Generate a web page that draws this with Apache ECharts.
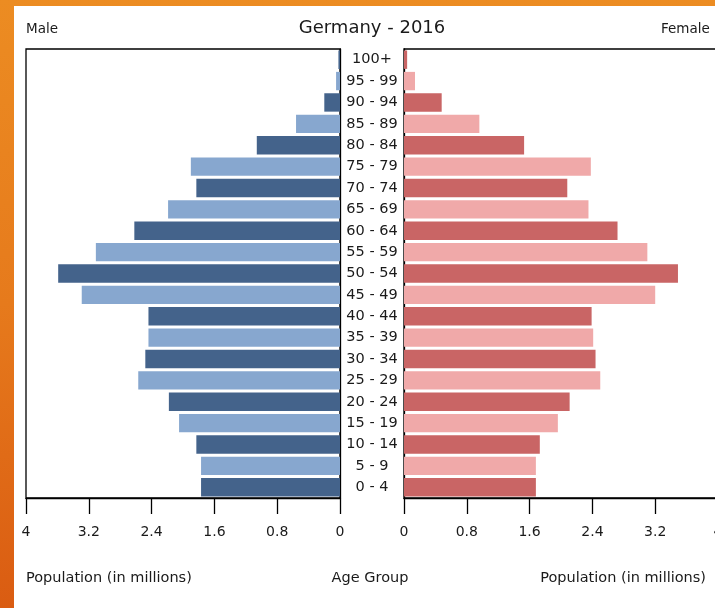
<!DOCTYPE html>
<html>
<head>
<meta charset="utf-8">
<script src="https://cdn.jsdelivr.net/npm/echarts@6/dist/echarts.min.js"></script>
<style>
html,body{margin:0;padding:0;width:715px;height:608px;overflow:hidden;
  background:linear-gradient(180deg,#ec8c22 0%,#e67a1c 50%,#da5c12 100%);}
#bg{position:absolute;left:14px;top:6px;right:0;bottom:0;background:#fff;}
#chart{position:absolute;left:0;top:0;width:715px;height:608px;}
</style>
</head>
<body>
<div id="bg"></div>
<div id="chart"></div>
<script>
const ageGroups = ['0 - 4','5 - 9','10 - 14','15 - 19','20 - 24','25 - 29','30 - 34','35 - 39','40 - 44','45 - 49','50 - 54','55 - 59','60 - 64','65 - 69','70 - 74','75 - 79','80 - 84','85 - 89','90 - 94','95 - 99','100+'];
const maleValues = [1.77,1.77,1.83,2.05,2.18,2.57,2.48,2.44,2.44,3.29,3.59,3.11,2.62,2.19,1.83,1.90,1.06,0.56,0.20,0.05,0.02];
const femaleValues = [1.68,1.68,1.73,1.96,2.11,2.50,2.44,2.41,2.39,3.20,3.49,3.10,2.72,2.35,2.08,2.38,1.53,0.96,0.48,0.14,0.04];
const xTicks = {min:0, max:4, interval:0.8};
const titleText = 'Germany - 2016';

const FONT = 'DejaVu Sans';
const TXT = '#1a1a1a';
const maleDark = '#44638b', maleLight = '#87a7cf';
const femDark = '#c96565', femLight = '#f0a9a9';

const chart = echarts.init(document.getElementById('chart'));

function xAxisCfg(idx, inverse){
  return {
    gridIndex: idx, type:'value', inverse: inverse,
    min: xTicks.min, max: xTicks.max, interval: xTicks.interval,
    axisLine:{show:true, lineStyle:{color:'#000', width:1.3}},
    axisTick:{show:true, length:16, lineStyle:{color:'#000', width:1.3}},
    splitLine:{show:false},
    axisLabel:{margin:27, fontSize:14, color:TXT, fontFamily:FONT,
      formatter: v => String(+(+v).toFixed(1))}
  };
}

chart.setOption({
  animation:false,
  textStyle:{fontFamily:FONT},
  grid:[
    {left:26, top:49, width:314, height:449, show:true, borderColor:'#000', borderWidth:1.3,
     backgroundColor:'transparent', containLabel:false, outerBoundsMode:'none'},
    {left:404, top:49, width:314, height:449, show:true, borderColor:'#000', borderWidth:1.3,
     backgroundColor:'transparent', containLabel:false, outerBoundsMode:'none'}
  ],
  xAxis:[ xAxisCfg(0,true), xAxisCfg(1,false) ],
  yAxis:[
    {gridIndex:0, type:'category', data:ageGroups, position:'right',
     axisLine:{show:true, lineStyle:{color:'#000', width:1.3}},
     axisTick:{show:false},
     axisLabel:{margin:32, align:'center', fontSize:14.5, color:TXT, fontFamily:FONT, interval:0}},
    {gridIndex:1, type:'category', data:ageGroups, position:'left',
     axisLine:{show:true, lineStyle:{color:'#000', width:1.3}},
     axisTick:{show:false}, axisLabel:{show:false}}
  ],
  series:[
    {type:'bar', name:'Male', xAxisIndex:0, yAxisIndex:0, data:maleValues, barWidth:'86%',
     itemStyle:{color: p => p.dataIndex % 2 === 0 ? maleDark : maleLight}},
    {type:'bar', name:'Female', xAxisIndex:1, yAxisIndex:1, data:femaleValues, barWidth:'86%',
     itemStyle:{color: p => p.dataIndex % 2 === 0 ? femDark : femLight}}
  ],
  graphic:[
    {type:'text', x:372, y:28, style:{text:titleText, fontSize:18, fontFamily:FONT, fill:TXT, align:'center', verticalAlign:'middle'}},
    {type:'text', x:26, y:29, style:{text:'Male', fontSize:13.5, fontFamily:FONT, fill:TXT, align:'left', verticalAlign:'middle'}},
    {type:'text', x:661, y:29, style:{text:'Female', fontSize:13.5, fontFamily:FONT, fill:TXT, align:'left', verticalAlign:'middle'}},
    {type:'text', x:26, y:578, style:{text:'Population (in millions)', fontSize:14.5, fontFamily:FONT, fill:TXT, align:'left', verticalAlign:'middle'}},
    {type:'text', x:370, y:578, style:{text:'Age Group', fontSize:14.5, fontFamily:FONT, fill:TXT, align:'center', verticalAlign:'middle'}},
    {type:'text', x:706, y:578, style:{text:'Population (in millions)', fontSize:14.5, fontFamily:FONT, fill:TXT, align:'right', verticalAlign:'middle'}}
  ]
});
</script>
</body>
</html>
